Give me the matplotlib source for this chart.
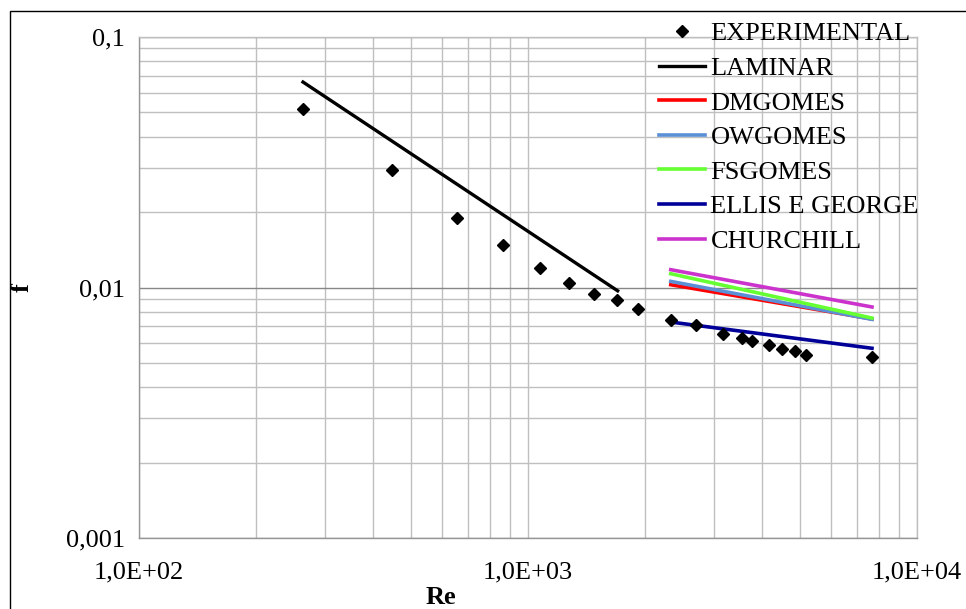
import matplotlib
matplotlib.use("Agg")
import matplotlib.pyplot as plt
from matplotlib.patches import Rectangle
from matplotlib.ticker import FixedLocator, NullFormatter

# experimental points
re_exp = [264, 448, 658, 861, 1074, 1277, 1481, 1690, 1914,
          2328, 2709, 3167, 3548, 3773, 4157, 4488, 4848, 5184, 7661]
f_exp = [0.0518, 0.0295, 0.0190, 0.0148, 0.0120, 0.01045, 0.0094, 0.0089, 0.0082,
         0.0074, 0.0071, 0.0065, 0.0063, 0.0061, 0.0059, 0.0057, 0.0056, 0.0054, 0.0053]

# correlations
re_lam = [264, 1700]
f_lam = [0.0661, 0.0097]
re_turb = [2328, 7661]
f_dmgomes = [0.01026, 0.00749]
f_owgomes = [0.01058, 0.00746]
f_fsgomes = [0.01135, 0.00755]
f_ellis = [0.00728, 0.00572]
f_churchill = [0.01178, 0.00836]

x_ticks = [1e2, 1e3, 1e4]
x_labels = ["1,0E+02", "1,0E+03", "1,0E+04"]
y_ticks = [1e-3, 1e-2, 1e-1]
y_labels = ["0,001", "0,01", "0,1"]

plt.rcParams["font.family"] = ["Liberation Serif", "DejaVu Serif"]
FS = 19

W, H = 966, 609
fig = plt.figure(figsize=(W / 100, H / 100), dpi=100)
ax = fig.add_axes([139 / W, 1 - 538 / H, (917 - 139) / W, (538 - 37) / H])

ax.plot(re_exp, f_exp, "D", color="black", ms=6.5, ls="none", label="EXPERIMENTAL", zorder=5)
ax.plot(re_lam, f_lam, color="black", lw=2.4, label="LAMINAR", zorder=4)
ax.plot(re_turb, f_dmgomes, color="#ff0000", lw=2.6, label="DMGOMES", zorder=3)
ax.plot(re_turb, f_owgomes, color="#5b8fd6", lw=2.6, label="OWGOMES", zorder=3)
ax.plot(re_turb, f_fsgomes, color="#66ff33", lw=2.6, label="FSGOMES", zorder=3)
ax.plot(re_turb, f_ellis, color="#000099", lw=2.6, label="ELLIS E GEORGE", zorder=3)
ax.plot(re_turb, f_churchill, color="#cc33cc", lw=2.6, label="CHURCHILL", zorder=3)

ax.set_xscale("log")
ax.set_yscale("log")
ax.set_xlim(1e2, 1e4)
ax.set_ylim(1e-3, 1e-1)

ax.xaxis.set_major_locator(FixedLocator(x_ticks))
ax.set_xticklabels(x_labels)
ax.yaxis.set_major_locator(FixedLocator(y_ticks))
ax.set_yticklabels(y_labels)
ax.xaxis.set_minor_formatter(NullFormatter())
ax.yaxis.set_minor_formatter(NullFormatter())
ax.tick_params(which="both", length=0, labelsize=FS)
ax.tick_params(axis="x", pad=17)
ax.tick_params(axis="y", pad=10)

ax.grid(True, which="minor", color="#bfbfbf", lw=1.0)
ax.grid(True, which="major", axis="x", color="#bfbfbf", lw=1.0)
ax.grid(True, which="major", axis="y", color="#868686", lw=1.0)
ax.set_axisbelow(True)

for side in ["top", "right"]:
    ax.spines[side].set_color("#bfbfbf")
    ax.spines[side].set_linewidth(1.0)
for side in ["left", "bottom"]:
    ax.spines[side].set_color("#969696")
    ax.spines[side].set_linewidth(1.0)

fig.text(441 / W, 1 - 598 / H, "Re", fontsize=FS, fontweight="bold", ha="center", va="center")
fig.text(22 / W, 1 - 288 / H, "f", fontsize=FS, fontweight="bold", ha="center", va="center", rotation=90)

leg = ax.legend(loc="upper left", bbox_to_anchor=(659 / W, 1 - 22 / H), bbox_transform=fig.transFigure,
                frameon=False, fontsize=FS, handlelength=1.75, handletextpad=0.2,
                labelspacing=0.42, borderpad=0, borderaxespad=0, numpoints=1)

fig.patches.append(Rectangle((10 / W, -0.1), 2, 1.1 - 11 / H, transform=fig.transFigure,
                             fill=False, edgecolor="black", lw=1.0))

fig.savefig("out.png", dpi=100)
